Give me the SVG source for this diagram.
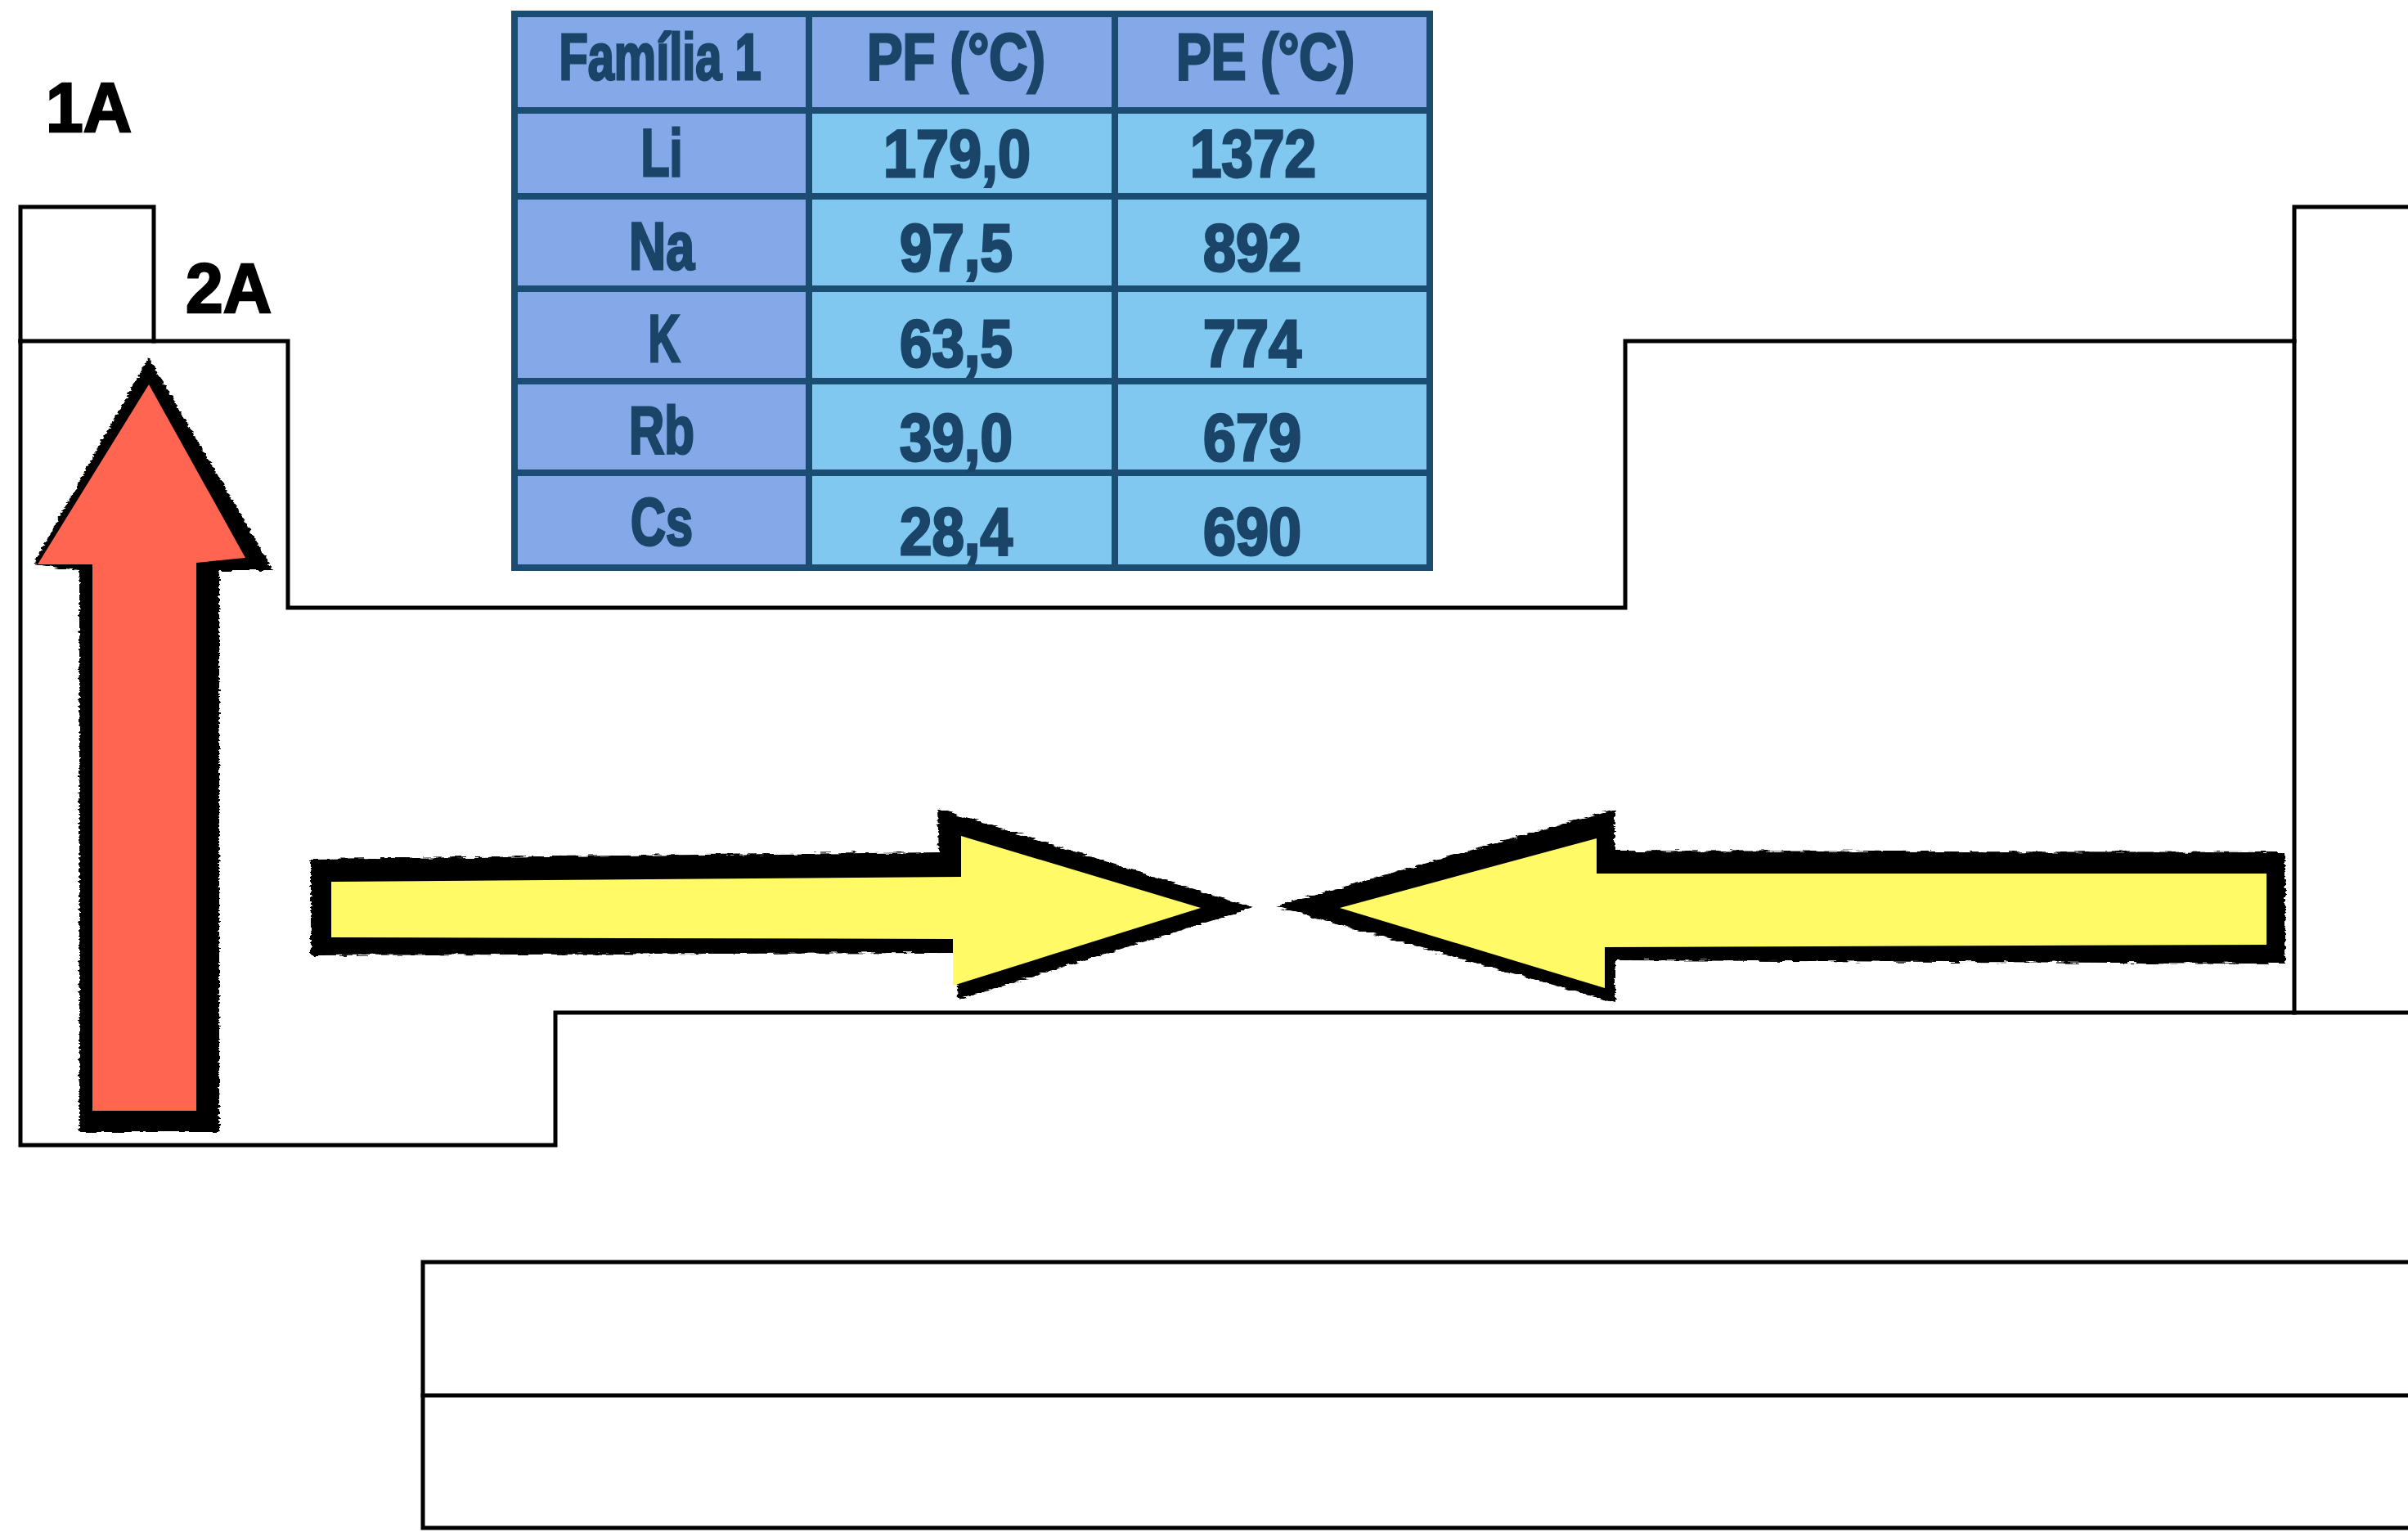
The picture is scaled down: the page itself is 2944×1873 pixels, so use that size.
<svg xmlns="http://www.w3.org/2000/svg" width="2944" height="1873" viewBox="0 0 2944 1873">
<style>
.grid{fill:none;stroke:#000;stroke-width:5;stroke-linecap:square;stroke-linejoin:miter}
.lbl{font-family:"Liberation Sans",Arial,sans-serif;font-weight:bold;font-size:86px;fill:#000;stroke:#000;stroke-width:2.5}
.th{font-family:"Liberation Sans",Arial,sans-serif;font-weight:bold;font-size:79px;fill:#1a4468;stroke:#1a4468;stroke-width:3;text-anchor:middle}
.td{font-family:"Liberation Sans",Arial,sans-serif;font-weight:bold;font-size:82px;fill:#1a4468;stroke:#1a4468;stroke-width:3;text-anchor:middle}
.hdr{fill:#85a8e8}
.dat{fill:#80c8ef}
.tb{fill:none;stroke:#1b4c72;stroke-width:8}
.ink{fill:#000}
</style>
<defs>
<filter id="rough" x="-5%" y="-5%" width="110%" height="110%">
<feTurbulence type="fractalNoise" baseFrequency="0.06 0.35" numOctaves="2" seed="3" result="n"/>
<feDisplacementMap in="SourceGraphic" in2="n" scale="7" xChannelSelector="R" yChannelSelector="G"/>
</filter>
</defs>
<rect width="2944" height="1873" fill="#fff"/>

<g id="periodic-outline">
<path class="grid" d="M25 417 V253 H188 V417"/>
<path class="grid" d="M25 417 H352 V743 H1987 V417 H2805 V253 H2944"/>
<path class="grid" d="M2805 417 V1238"/>
<path class="grid" d="M2944 1238 H679 V1400 H25 V417"/>
<path class="grid" d="M2944 1543 H517 V1868 H2944"/>
<path class="grid" d="M517 1706 H2944"/>
</g>

<g id="label-1A"><text class="lbl" x="56" y="161" textLength="105" lengthAdjust="spacingAndGlyphs">1A</text></g>
<g id="label-2A"><text class="lbl" x="227" y="382" textLength="105" lengthAdjust="spacingAndGlyphs">2A</text></g>

<g id="table">
<rect class="hdr" x="625" y="13" width="1127" height="685"/>
<rect class="dat" x="989" y="135" width="763" height="563"/>
<rect class="tb" x="629" y="17" width="1119" height="677"/>
<path class="tb" d="M989 17 V694 M1363 17 V694 M629 135 H1748 M629 240 H1748 M629 353 H1748 M629 466 H1748 M629 578 H1748"/>
<text class="th" x="807" y="97" textLength="247" lengthAdjust="spacingAndGlyphs">Família 1</text>
<text class="th" x="1169" y="97" textLength="218" lengthAdjust="spacingAndGlyphs">PF (°C)</text>
<text class="th" x="1547" y="97" textLength="218" lengthAdjust="spacingAndGlyphs">PE (°C)</text>
<text class="td" x="809" y="215" textLength="51" lengthAdjust="spacingAndGlyphs">Li</text>
<text class="td" x="809" y="329" textLength="80" lengthAdjust="spacingAndGlyphs">Na</text>
<text class="td" x="812" y="442" textLength="39" lengthAdjust="spacingAndGlyphs">K</text>
<text class="td" x="809" y="554" textLength="80" lengthAdjust="spacingAndGlyphs">Rb</text>
<text class="td" x="809" y="666" textLength="76" lengthAdjust="spacingAndGlyphs">Cs</text>
<text class="td" x="1170" y="216" textLength="180" lengthAdjust="spacingAndGlyphs">179,0</text>
<text class="td" x="1169" y="331" textLength="138" lengthAdjust="spacingAndGlyphs">97,5</text>
<text class="td" x="1169" y="448" textLength="138" lengthAdjust="spacingAndGlyphs">63,5</text>
<text class="td" x="1169" y="563" textLength="138" lengthAdjust="spacingAndGlyphs">39,0</text>
<text class="td" x="1169" y="678" textLength="138" lengthAdjust="spacingAndGlyphs">28,4</text>
<text class="td" x="1532" y="216" textLength="154" lengthAdjust="spacingAndGlyphs">1372</text>
<text class="td" x="1531" y="331" textLength="120" lengthAdjust="spacingAndGlyphs">892</text>
<text class="td" x="1531" y="448" textLength="120" lengthAdjust="spacingAndGlyphs">774</text>
<text class="td" x="1531" y="563" textLength="120" lengthAdjust="spacingAndGlyphs">679</text>
<text class="td" x="1531" y="678" textLength="120" lengthAdjust="spacingAndGlyphs">690</text>
</g>

<g id="arrow-up">
<polygon class="ink" filter="url(#rough)" points="182,437 334,697 268,697 268,1384 97,1384 97,697 40,690"/>
<polygon fill="#ff6550" points="182,470 300,682 240,688 240,1358 113,1358 113,690 46,690"/>
</g>

<g id="arrow-right">
<polygon class="ink" filter="url(#rough)" points="380,1050 1148,1042 1146,988 1532,1110 1172,1222 1168,1165 380,1168"/>
<polygon fill="#fffa66" points="405,1078 1175,1072 1175,1022 1468,1110 1165,1205 1165,1148 405,1146"/>
</g>

<g id="arrow-left">
<polygon class="ink" filter="url(#rough)" points="1560,1108 1974,989 1974,1040 2794,1042 2794,1178 1975,1174 1975,1226"/>
<polygon fill="#fffa66" points="1638,1110 1952,1025 1952,1068 2771,1068 2771,1155 1962,1158 1962,1208"/>
</g>
</svg>
